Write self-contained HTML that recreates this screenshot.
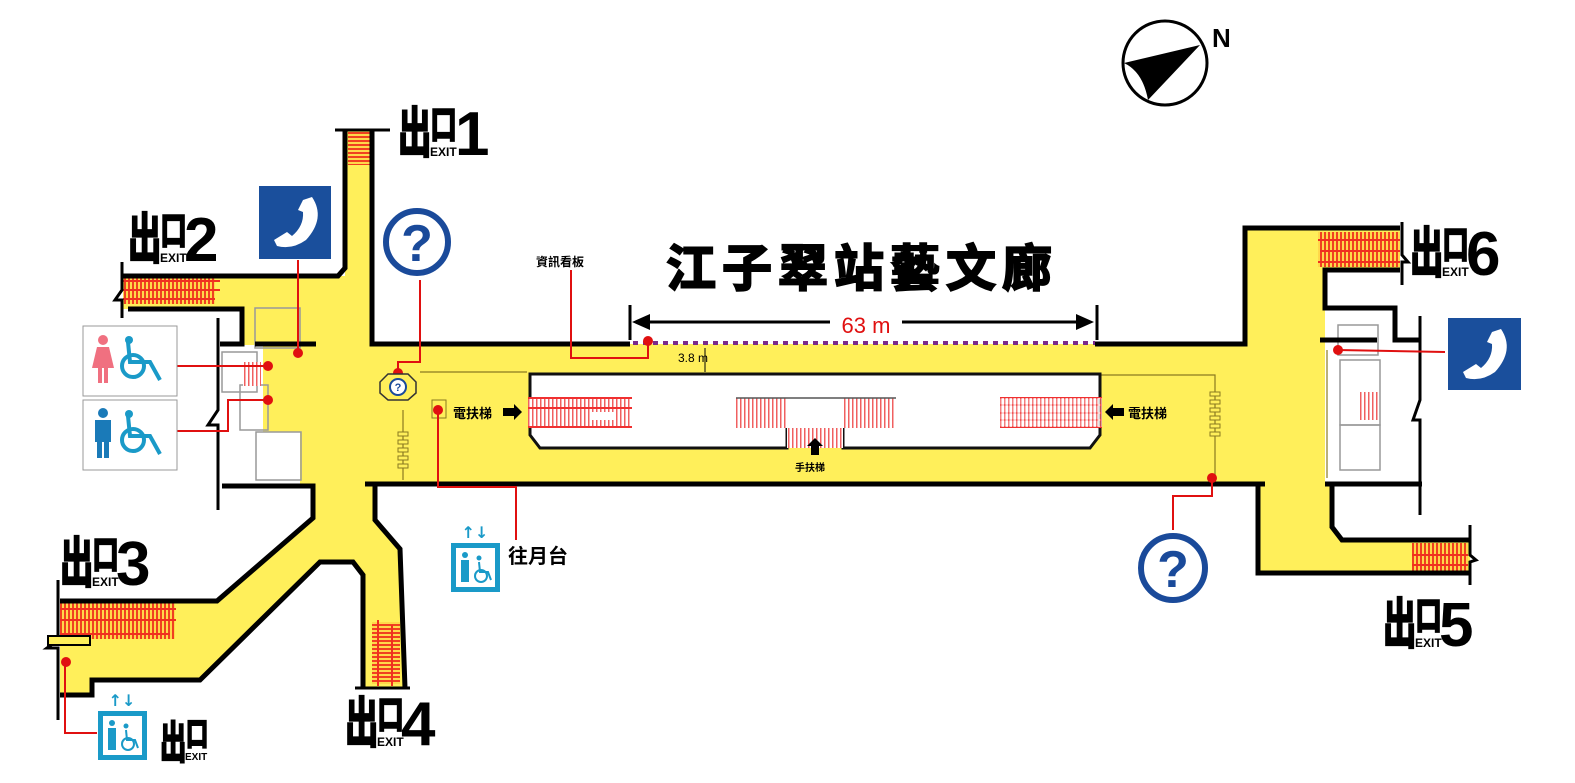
<!DOCTYPE html>
<html><head><meta charset="utf-8"><style>
html,body{margin:0;padding:0;background:#fff;}
svg{display:block;}
.cj{font-family:"Liberation Sans","Noto Sans CJK TC",sans-serif;font-weight:bold;}
.ex{stroke:#000;stroke-width:2.2;}
</style></head><body>
<svg width="1575" height="783" viewBox="0 0 1575 783" xmlns="http://www.w3.org/2000/svg">
<defs>
<pattern id="stH" width="4" height="10" patternUnits="userSpaceOnUse"><rect width="4" height="10" fill="#ffd84a"/><rect width="2" height="10" fill="#f04020"/></pattern>
<pattern id="stV" width="10" height="4" patternUnits="userSpaceOnUse"><rect width="10" height="4" fill="#ffd84a"/><rect width="10" height="2" fill="#f04020"/></pattern>
<pattern id="stP" width="4" height="10" patternUnits="userSpaceOnUse"><rect width="4" height="10" fill="#fff"/><rect width="1.5" height="10" fill="#f06060"/></pattern>
</defs>
<g fill="#ffef5a">
<rect x="345" y="130" width="27" height="216"/>
<rect x="123" y="276" width="224" height="33"/>
<rect x="242" y="309" width="130" height="36"/>
<rect x="263" y="344" width="105" height="88"/>
<rect x="300" y="344" width="70" height="142"/>
<rect x="365" y="344" width="885" height="139"/>
<polygon points="313,484 375,484 375,520 400,549 405,688 363,688 363,575 353,562 320,562 200,680 92,680 92,695 60,695 60,601 217,601 313,518"/>
<polygon points="1245,228 1400,228 1400,270 1325,270 1325,484 1332,484 1332,527 1342,540 1470,540 1470,573 1258,573 1258,484 1245,484"/>
</g>
<g fill="none" stroke="#999" stroke-width="1.5">
<rect x="255" y="308" width="45" height="40"/><rect x="222" y="352" width="35" height="40"/><rect x="240" y="385" width="28" height="45"/>
<rect x="256" y="432" width="45" height="48"/>
<rect x="1338" y="325" width="40" height="30"/><rect x="1340" y="360" width="40" height="65"/><rect x="1340" y="425" width="40" height="45"/>
</g>
<rect x="1360" y="392" width="18" height="28" fill="url(#stP)"/>
<rect x="243" y="362" width="18" height="24" fill="url(#stP)"/>
<g fill="none" stroke="#8a7a20" stroke-width="1.2">
<path d="M420,372 L527,372"/><path d="M1097,375 L1215,375 L1215,478"/>
<path d="M403,410 L403,480"/><path d="M1327,350 L1327,478"/>
</g>
<g fill="#ffef5a" stroke="#8a7a20" stroke-width="1">
<rect x="398" y="432" width="10" height="4"/><rect x="398" y="440" width="10" height="4"/><rect x="398" y="448" width="10" height="4"/><rect x="398" y="456" width="10" height="4"/><rect x="398" y="464" width="10" height="4"/>
<rect x="1210" y="392" width="10" height="4"/><rect x="1210" y="400" width="10" height="4"/><rect x="1210" y="408" width="10" height="4"/><rect x="1210" y="416" width="10" height="4"/><rect x="1210" y="424" width="10" height="4"/><rect x="1210" y="432" width="10" height="4"/>
<rect x="432" y="400" width="14" height="18"/>
</g>
<path d="M530,374 L1100,374 L1100,435 L1090,448 L843,448 L843,428 L787,428 L787,448 L540,448 L530,435 Z" fill="#fff" stroke="#111" stroke-width="3"/>
<rect x="528" y="398" width="104" height="29" fill="url(#stP)"/>
<rect x="590" y="412" width="24" height="8" fill="#fff"/>
<g stroke="#f03030" stroke-width="2"><line x1="528" y1="398" x2="632" y2="398"/><line x1="528" y1="408" x2="632" y2="408"/><line x1="528" y1="427" x2="632" y2="427"/>
<line x1="1000" y1="398" x2="1102" y2="398"/><line x1="1000" y1="405" x2="1102" y2="405"/><line x1="1000" y1="413" x2="1102" y2="413"/><line x1="1000" y1="420" x2="1102" y2="420"/><line x1="1000" y1="427" x2="1102" y2="427"/></g>
<rect x="1000" y="398" width="102" height="29" fill="url(#stP)" opacity="0.8"/>
<rect x="736" y="398" width="160" height="30" fill="url(#stP)"/>
<rect x="787" y="398" width="56" height="30" fill="#fff"/>
<rect x="787" y="428" width="56" height="20" fill="url(#stP)"/>
<line x1="736" y1="398" x2="896" y2="398" stroke="#555" stroke-width="1.5"/>
<rect x="123" y="276" width="92" height="28" fill="url(#stH)"/>
<g stroke="#f03020" stroke-width="2"><line x1="123" y1="281" x2="220" y2="281"/><line x1="123" y1="290" x2="220" y2="290"/><line x1="123" y1="299" x2="215" y2="299"/></g>
<rect x="60" y="603" width="115" height="36" fill="url(#stH)"/>
<g stroke="#f03020" stroke-width="2"><line x1="60" y1="609" x2="176" y2="609"/><line x1="60" y1="620" x2="176" y2="620"/><line x1="60" y1="634" x2="170" y2="634"/></g>
<rect x="1318" y="232" width="82" height="35" fill="url(#stH)"/>
<g stroke="#f03020" stroke-width="2"><line x1="1318" y1="240" x2="1400" y2="240"/><line x1="1320" y1="251" x2="1400" y2="251"/><line x1="1318" y1="262" x2="1400" y2="262"/></g>
<rect x="1412" y="543" width="56" height="29" fill="url(#stH)"/>
<g stroke="#f03020" stroke-width="2"><line x1="1412" y1="555" x2="1468" y2="555"/><line x1="1412" y1="565" x2="1468" y2="565"/></g>
<rect x="348" y="132" width="22" height="33" fill="url(#stV)"/>
<rect x="372" y="622" width="28" height="62" fill="url(#stV)"/>
<g stroke="#f03020" stroke-width="2"><line x1="378" y1="620" x2="378" y2="686"/><line x1="392" y1="625" x2="392" y2="686"/></g>
<g fill="none" stroke="#000" stroke-width="5" stroke-linejoin="miter">
<path d="M345,130 L345,268 L338,276 L123,276"/>
<path d="M372,130 L372,344 L630,344"/>
<path d="M1095,344 L1245,344 L1245,228 L1400,228"/>
<path d="M128,309 L242,309 L242,344 L220,344"/>
<path d="M222,486 L313,486 L313,518 L217,601 L60,601"/>
<path d="M60,695 L92,695 L92,680 L200,680 L320,562 L353,562 L363,575 L363,688"/>
<path d="M375,486 L375,520 L400,549 L405,688"/>
<path d="M365,484 L1265,484"/>
<path d="M1258,484 L1258,573 L1470,573"/>
<path d="M1332,484 L1332,527 L1342,540 L1470,540"/>
<path d="M1400,270 L1325,270 L1325,308 L1395,308 L1395,340 L1420,340"/>
<path d="M1320,340 L1377,340"/>
<path d="M1325,484 L1422,484"/>
<path d="M255,344 L316,344"/>
</g>
<g fill="none" stroke="#000" stroke-width="3">
<path d="M218,318 L218,410 L208,425 L218,425 L218,510"/>
<path d="M1420,316 L1420,400 L1413,420 L1420,420 L1420,515"/>
<path d="M122,262 L122,290 L115,300 L122,300 L122,318"/>
<path d="M58,580 L58,640 L47,648 L58,648 L58,720"/>
<path d="M1402,222 L1402,255 L1408,262 L1402,262 L1402,285"/>
<path d="M1470,525 L1470,555 L1476,560 L1470,562 L1470,585"/>
<path d="M335,130 L390,130"/><path d="M355,688 L410,688"/>
<path d="M630,305 L630,340"/><path d="M1097,305 L1097,340"/>
</g>
<rect x="48" y="636" width="42" height="9" fill="#ffef5a" stroke="#000" stroke-width="2"/>
<line x1="633" y1="343" x2="1095" y2="343" stroke="#7a2a8a" stroke-width="4" stroke-dasharray="5,5"/>
<g stroke="#000" stroke-width="3"><line x1="640" y1="322" x2="830" y2="322"/><line x1="902" y1="322" x2="1085" y2="322"/></g>
<polygon points="632,322 650,314 650,330" fill="#000"/><polygon points="1094,322 1076,314 1076,330" fill="#000"/>
<text x="866" y="333" text-anchor="middle" fill="#e01010" font-family="Liberation Sans,sans-serif" font-size="22">63 m</text>
<text x="693" y="362" text-anchor="middle" font-family="Liberation Sans,sans-serif" font-size="12" fill="#000">3.8 m</text>
<line x1="705" y1="348" x2="705" y2="372" stroke="#000" stroke-width="1"/>
<text x="862" y="286" text-anchor="middle" class="cj" font-size="50" letter-spacing="6" fill="#000" stroke="#000" stroke-width="2">江子翠站藝文廊</text>
<text x="560" y="266" text-anchor="middle" class="cj" font-size="12">資訊看板</text>
<text x="453" y="418" class="cj" font-size="13">電扶梯</text>
<text x="1128" y="418" class="cj" font-size="13">電扶梯</text>
<text x="810" y="471" class="cj" font-size="10" text-anchor="middle">手扶梯</text>
<g fill="#000"><polygon points="503,408 514,408 514,404 522,412 514,420 514,416 503,416"/><polygon points="1124,408 1113,408 1113,404 1105,412 1113,420 1113,416 1124,416"/><polygon points="811,455 811,446 807,446 815,438 823,446 819,446 819,455"/></g>
<g fill="none" stroke="#e01010" stroke-width="2">
<path d="M648,341 L648,358 L571,358 L571,270"/>
<path d="M420,280 L420,362 L398,362 L398,373"/>
<path d="M298,260 L298,353"/>
<path d="M177,366 L268,366"/>
<path d="M177,431 L228,431 L228,400 L268,400"/>
<path d="M438,410 L438,487 L516,487 L516,540"/>
<path d="M65,660 L65,733 L97,733"/>
<path d="M1445,352 L1338,350"/>
<path d="M1212,478 L1212,496 L1173,496 L1173,530"/>
</g>
<g fill="#e01010"><circle cx="648" cy="341" r="5"/><circle cx="398" cy="373" r="5"/><circle cx="298" cy="353" r="5"/><circle cx="268" cy="366" r="5"/><circle cx="268" cy="400" r="5"/><circle cx="438" cy="410" r="5"/><circle cx="66" cy="662" r="5"/><circle cx="1338" cy="350" r="5"/><circle cx="1212" cy="478" r="5"/></g>
<polygon points="388,374 408,374 416,382 416,393 408,400 388,400 380,393 380,382" fill="#ffef5a" stroke="#333" stroke-width="1.5"/>
<circle cx="398" cy="387" r="8" fill="#fff" stroke="#1a4a9a" stroke-width="2"/>
<text x="398" y="391" text-anchor="middle" font-family="Liberation Sans" font-weight="bold" font-size="11" fill="#1a4a9a">?</text>
<circle cx="417" cy="242" r="31" fill="#fff" stroke="#1a4a9a" stroke-width="6"/>
<text x="417" y="261" text-anchor="middle" font-family="Liberation Sans" font-weight="bold" font-size="52" fill="#1a4a9a">?</text>
<circle cx="1173" cy="568" r="32" fill="#fff" stroke="#1a4a9a" stroke-width="6"/>
<text x="1173" y="587" text-anchor="middle" font-family="Liberation Sans" font-weight="bold" font-size="52" fill="#1a4a9a">?</text>
<rect x="259" y="186" width="72" height="73" fill="#1a4f9c"/>
<path d="M303,200 L312,197 Q326,218 306,240 Q292,250 277,246 L274,240 L287,232 L292,236 Q304,226 303,212 L298,210 Z" fill="#fff"/>
<rect x="1448" y="318" width="73" height="72" fill="#1a4f9c"/>
<path d="M1492,332 L1501,329 Q1515,350 1495,372 Q1481,382 1466,378 L1463,372 L1476,364 L1481,368 Q1493,358 1492,344 L1487,342 Z" fill="#fff"/>
<rect x="83" y="326" width="94" height="70" fill="#fff" stroke="#999" stroke-width="1"/>
<rect x="83" y="400" width="94" height="70" fill="#fff" stroke="#999" stroke-width="1"/>
<g fill="#f07080"><circle cx="103" cy="340" r="5"/><polygon points="97,347 109,347 114,368 92,368"/><rect x="98" y="366" width="4" height="17"/><rect x="104" y="366" width="4" height="17"/></g>
<g fill="#1a7ab8"><circle cx="103" cy="413" r="5"/><rect x="95" y="420" width="16" height="22"/><rect x="97" y="440" width="5" height="18"/><rect x="104" y="440" width="5" height="18"/></g>
<g fill="none" stroke="#1a9ac8" stroke-width="4"><circle cx="133" cy="366" r="11"/><path d="M128,342 L130,362 L150,362 L160,380"/><circle cx="133" cy="440" r="11"/><path d="M128,416 L130,436 L150,436 L160,454"/></g>
<g fill="#1a9ac8"><circle cx="129" cy="340" r="4"/><circle cx="129" cy="414" r="4"/></g>
<g>
<rect x="451" y="543" width="49" height="49" fill="#1a9ac8"/><rect x="456" y="548" width="39" height="39" fill="#fff"/>
<g fill="#1a9ac8"><circle cx="465" cy="555" r="3"/><rect x="461" y="560" width="8" height="22"/><circle cx="479" cy="558" r="2.5"/></g>
<path d="M479,562 L480,572 L488,572 L491,580" fill="none" stroke="#1a9ac8" stroke-width="2"/>
<circle cx="481" cy="576" r="6" fill="none" stroke="#1a9ac8" stroke-width="2"/>
<text x="475" y="538" text-anchor="middle" font-size="16" font-weight="bold" fill="#1a9ac8" font-family="DejaVu Sans">↑↓</text>
<text x="508" y="563" class="cj" font-size="20">往月台</text>
</g>
<g>
<rect x="98" y="711" width="49" height="49" fill="#1a9ac8"/><rect x="103" y="716" width="39" height="39" fill="#fff"/>
<g fill="#1a9ac8"><circle cx="112" cy="723" r="3"/><rect x="108" y="728" width="8" height="22"/><circle cx="126" cy="726" r="2.5"/></g>
<path d="M126,730 L127,740 L135,740 L138,748" fill="none" stroke="#1a9ac8" stroke-width="2"/>
<circle cx="128" cy="744" r="6" fill="none" stroke="#1a9ac8" stroke-width="2"/>
<text x="122" y="706" text-anchor="middle" font-size="16" font-weight="bold" fill="#1a9ac8" font-family="DejaVu Sans">↑↓</text>
<g transform="translate(160,718)"><text transform="scale(0.6,1)" x="0" y="40" class="cj ex" font-size="44">出</text><text transform="scale(0.7,1)" x="37" y="27" class="cj ex" font-size="32">口</text><text x="25" y="42" font-family="Liberation Sans" font-weight="bold" font-size="10">EXIT</text></g>
</g>
<g transform="translate(398,102)"><text transform="scale(0.62,1)" x="0" y="50" class="cj ex" font-size="54">出</text><text transform="scale(0.7,1)" x="46" y="36" class="cj ex" font-size="38">口</text><text x="32" y="54" font-family="Liberation Sans" font-weight="bold" font-size="12">EXIT</text><text x="57" y="53" font-family="Liberation Sans" font-weight="bold" font-size="62">1</text></g>
<g transform="translate(128,208)"><text transform="scale(0.62,1)" x="0" y="50" class="cj ex" font-size="54">出</text><text transform="scale(0.7,1)" x="46" y="36" class="cj ex" font-size="38">口</text><text x="32" y="54" font-family="Liberation Sans" font-weight="bold" font-size="12">EXIT</text><text x="56" y="53" font-family="Liberation Sans" font-weight="bold" font-size="62">2</text></g>
<g transform="translate(60,532)"><text transform="scale(0.62,1)" x="0" y="50" class="cj ex" font-size="54">出</text><text transform="scale(0.7,1)" x="46" y="36" class="cj ex" font-size="38">口</text><text x="32" y="54" font-family="Liberation Sans" font-weight="bold" font-size="12">EXIT</text><text x="56" y="53" font-family="Liberation Sans" font-weight="bold" font-size="62">3</text></g>
<g transform="translate(345,692)"><text transform="scale(0.62,1)" x="0" y="50" class="cj ex" font-size="54">出</text><text transform="scale(0.7,1)" x="46" y="36" class="cj ex" font-size="38">口</text><text x="32" y="54" font-family="Liberation Sans" font-weight="bold" font-size="12">EXIT</text><text x="56" y="53" font-family="Liberation Sans" font-weight="bold" font-size="62">4</text></g>
<g transform="translate(1383,593)"><text transform="scale(0.62,1)" x="0" y="50" class="cj ex" font-size="54">出</text><text transform="scale(0.7,1)" x="46" y="36" class="cj ex" font-size="38">口</text><text x="32" y="54" font-family="Liberation Sans" font-weight="bold" font-size="12">EXIT</text><text x="56" y="53" font-family="Liberation Sans" font-weight="bold" font-size="62">5</text></g>
<g transform="translate(1410,222)"><text transform="scale(0.62,1)" x="0" y="50" class="cj ex" font-size="54">出</text><text transform="scale(0.7,1)" x="46" y="36" class="cj ex" font-size="38">口</text><text x="32" y="54" font-family="Liberation Sans" font-weight="bold" font-size="12">EXIT</text><text x="56" y="53" font-family="Liberation Sans" font-weight="bold" font-size="62">6</text></g>
<circle cx="1165" cy="63" r="42" fill="#fff" stroke="#000" stroke-width="3"/>
<path d="M1200,45 L1148,100 Q1143,72 1124,63 Z" fill="#000"/>
<text x="1212" y="47" font-family="Liberation Sans" font-weight="bold" font-size="26">N</text>
</svg>
</body></html>
